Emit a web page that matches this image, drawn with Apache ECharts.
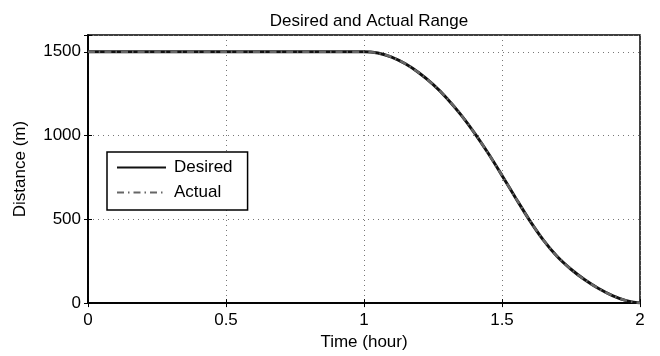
<!DOCTYPE html>
<html>
<head>
<meta charset="utf-8">
<script src="https://cdn.jsdelivr.net/npm/echarts@6/dist/echarts.min.js"></script>
<style>
  html, body { margin: 0; padding: 0; background: #fff; }
  #container { width: 660px; height: 356px; }
</style>
</head>
<body>
<div id="container"></div>
<script>
const time = [
  0, 0.25, 0.5, 0.75, 1.0, 1.05, 1.1, 1.15, 1.2, 1.25, 1.3, 1.35, 1.4, 1.45,
  1.5, 1.55, 1.6, 1.65, 1.7, 1.75, 1.8, 1.85, 1.9, 1.95, 2.0
]
const desired = [
  1500, 1500, 1500, 1500, 1500, 1492, 1468, 1428, 1373, 1305, 1223, 1126, 1016, 894,
  762, 626, 494, 376, 278, 202, 139, 87, 45, 15, 0
]
const actual = [
  1500, 1500, 1500, 1500, 1500, 1492, 1468, 1428, 1373, 1305, 1223, 1126, 1016, 894,
  762, 626, 494, 376, 278, 202, 139, 87, 45, 15, 0
]
const yTicks = [0, 500, 1000, 1500]
const xTicks = [0, 0.5, 1, 1.5, 2]

const font = 'Liberation Sans, Helvetica, Arial, sans-serif'
const pair = (arr) => time.map((t, i) => [t, arr[i]])

const chart = echarts.init(document.getElementById('container'), null, { renderer: 'canvas' })

const gridLine = { show: true, lineStyle: { color: '#777', type: [1, 4], width: 1 } }

chart.setOption({
  animation: false,
  backgroundColor: '#fff',
  title: {
    text: 'Desired and Actual Range',
    left: 364,
    textAlign: 'center',
    top: 8,
    textStyle: { fontFamily: font, fontSize: 17, fontWeight: 'normal', color: '#000' }
  },
  legend: {
    data: ['Desired', 'Actual'],
    orient: 'vertical',
    left: 107,
    top: 152,
    padding: [7, 15, 9, 9],
    itemWidth: 49,
    itemHeight: 10,
    itemGap: 8,
    borderColor: '#000',
    borderWidth: 1.5,
    backgroundColor: '#fff',
    itemStyle: { opacity: 0 },
    textStyle: { fontFamily: font, fontSize: 17, color: '#000', padding: [0, 0, 0, 3] }
  },
  grid: {
    left: 88,
    right: 20,
    top: 35,
    bottom: 52,
    show: true,
    borderColor: '#000',
    borderWidth: 1.5
  },
  xAxis: [
    {
      type: 'value',
      min: 0,
      max: 2,
      interval: 0.5,
      name: 'Time (hour)',
      nameLocation: 'middle',
      nameGap: 24,
      nameTextStyle: { fontFamily: font, fontSize: 17, color: '#000' },
      axisLine: { show: true, lineStyle: { color: '#000', width: 1.5 } },
      axisTick: { show: true, inside: true, length: 4, lineStyle: { color: '#000' } },
      axisLabel: {
        fontFamily: font, fontSize: 17, color: '#000', margin: 9,
        formatter: (v) => (xTicks.includes(v) ? String(v) : '')
      },
      splitLine: gridLine
    },
    {
      type: 'value',
      position: 'top',
      min: 0,
      max: 2,
      interval: 0.5,
      axisLine: { show: true, lineStyle: { color: '#000', width: 1.5 } },
      axisTick: { show: true, inside: true, length: 4, lineStyle: { color: '#000' } },
      axisLabel: { show: false },
      splitLine: { show: false }
    }
  ],
  yAxis: [
    {
      type: 'value',
      min: 0,
      max: 1600,
      interval: 500,
      name: 'Distance (m)',
      nameLocation: 'middle',
      nameGap: 59,
      nameTextStyle: { fontFamily: font, fontSize: 17, color: '#000' },
      axisLine: { show: true, lineStyle: { color: '#000', width: 1.5 } },
      axisTick: { show: true, inside: true, length: 4, lineStyle: { color: '#000' } },
      axisLabel: {
        fontFamily: font, fontSize: 17, color: '#000', margin: 7,
        formatter: (v) => (yTicks.includes(v) ? String(v) : '')
      },
      splitLine: gridLine
    },
    {
      type: 'value',
      position: 'right',
      min: 0,
      max: 1600,
      interval: 500,
      axisLine: { show: true, lineStyle: { color: '#000', width: 1.5 } },
      axisTick: { show: true, inside: true, length: 4, lineStyle: { color: '#000' } },
      axisLabel: { show: false },
      splitLine: { show: false }
    }
  ],
  series: [
    {
      name: 'Desired',
      type: 'line',
      data: pair(desired),
      symbol: 'none',
      smooth: 0.3,
      lineStyle: { color: '#111', width: 3 },
      itemStyle: { color: '#111' },
      z: 2
    },
    {
      name: 'Actual',
      type: 'line',
      data: pair(actual),
      symbol: 'none',
      smooth: 0.3,
      lineStyle: { color: '#666', width: 2.5, type: [7, 4, 1.5, 4] },
      itemStyle: { color: '#666' },
      z: 3
    }
  ]
})
</script>
</body>
</html>
